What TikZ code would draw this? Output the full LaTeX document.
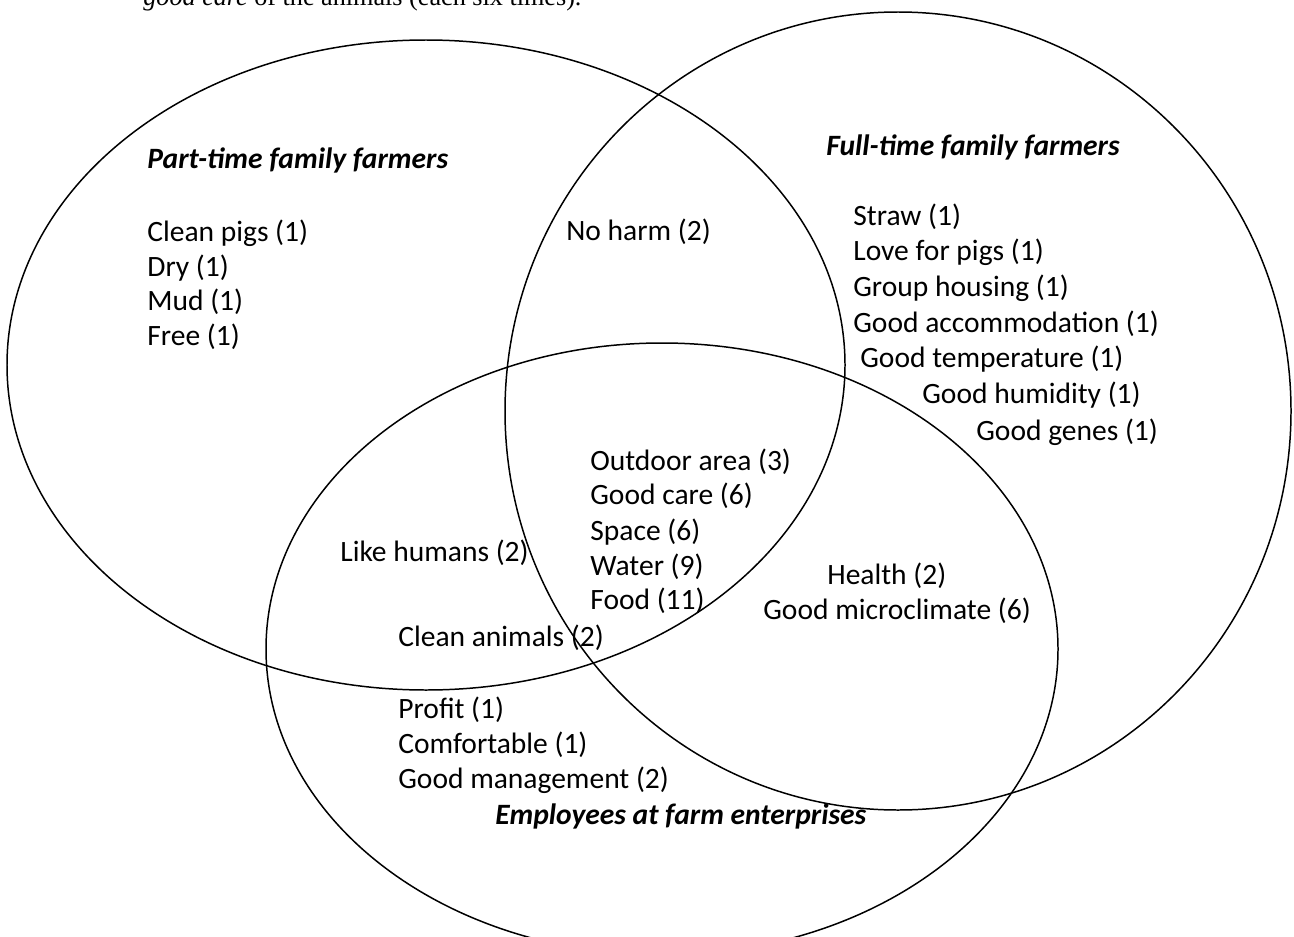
\documentclass[tikz,border=0pt]{standalone}
\usepackage{fontspec}
\setmainfont{Carlito}
\newfontfamily\bodyserif{Liberation Serif}
\usetikzlibrary{positioning}
\tikzset{item/.style={inner sep=0pt, anchor=west, font=\fontsize{16.8}{20.5}\selectfont},
	group/.style={item, font=\fontsize{16.8}{20.5}\selectfont\bfseries\itshape},
	set/.style={draw, line width=0.85pt}}

\begin{document}
\begin{tikzpicture}[x=0.02cm, y=-0.02cm]
		\useasboundingbox (0,0) rectangle (1294,936);
		\clip (0,0) rectangle (1294,936);
		% line of the text above
		\node[item, anchor=base west, font=\fontsize{14.9}{18}\bodyserif] (txt) at (143,6) {\textit{good care} of the animals (each six times).};
		% the three sets
		\draw[set] (426,365) ellipse [x radius=419, y radius=325];
		\draw[set] (898,411) ellipse [x radius=393, y radius=399];
		\draw[set] (662,649) ellipse [x radius=396, y radius=306];
		% part-time
		\node[group] (pt) at (147,160) {Part-time family farmers};
		\node[item] (pt1) at (147,233) {Clean pigs (1)};
		\node[item] (pt2) at (147,268) {Dry (1)};
		\node[item] (pt3) at (147,302) {Mud (1)};
		\node[item] (pt4) at (147,337) {Free (1)};
		\node[item] (ptft) at (566,232) {No harm (2)};
		% full-time
		\node[group] (ft) at (826,147) {Full-time family farmers};
		\node[item] (ft1) at (853,217) {Straw (1)};
		\node[item] (ft2) at (853,252) {Love for pigs (1)};
		\node[item] (ft3) at (853,288) {Group housing (1)};
		\node[item] (ft4) at (853,324) {Good accommodation (1)};
		\node[item] (ft5) at (860,359) {Good temperature (1)};
		\node[item] (ft6) at (922,395) {Good humidity (1)};
		\node[item] (ft7) at (976,432) {Good genes (1)};
		% all three
		\node[item] (all1) at (590,462) {Outdoor area (3)};
		\node[item] (all2) at (590,496) {Good care (6)};
		\node[item] (all3) at (590,532) {Space (6)};
		\node[item] (all4) at (590,567) {Water (9)};
		\node[item] (all5) at (590,601) {Food (11)};
		% two of them
		\node[item] (ptem1) at (340,553) {Like humans (2)};
		\node[item] (ptem2) at (398,638) {Clean animals (2)};
		\node[item] (ftem1) at (827,576) {Health (2)};
		\node[item] (ftem2) at (763,611) {Good microclimate (6)};
		% employees
		\node[item] (em1) at (398,710) {Profit (1)};
		\node[item] (em2) at (398,745) {Comfortable (1)};
		\node[item] (em3) at (398,780) {Good management (2)};
		\node[group] (em) at (495,816) {Employees at farm enterprises};
\end{tikzpicture}
\end{document}
